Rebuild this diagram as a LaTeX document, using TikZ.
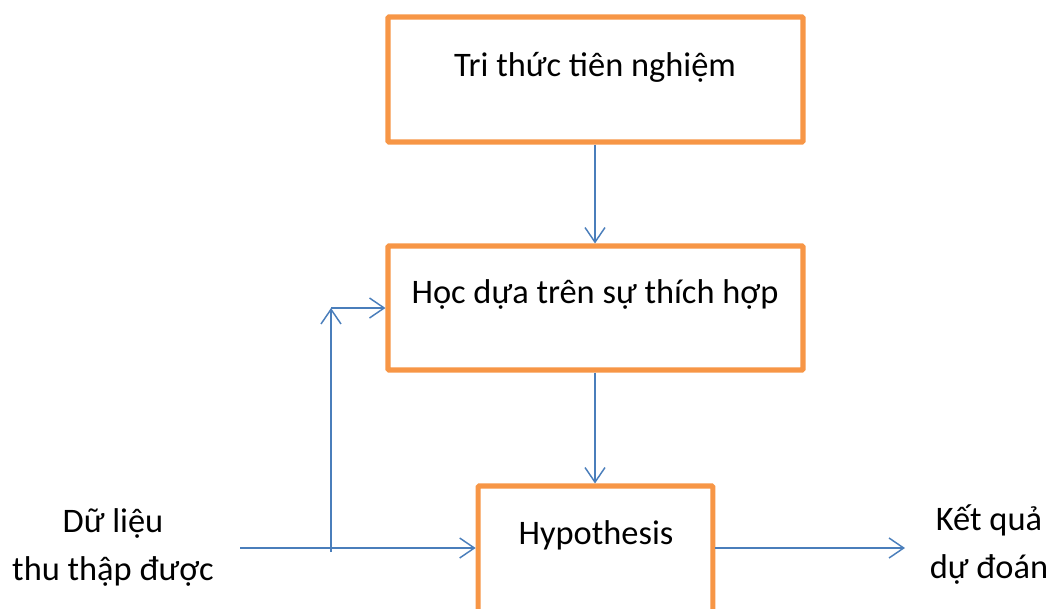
\documentclass[tikz,border=0pt]{standalone}
\usepackage{fontspec}
\setmainfont{Carlito}
\usetikzlibrary{arrows.meta}
\definecolor{boxorange}{HTML}{F79646}
\definecolor{linkblue}{HTML}{4A7EBB}
\begin{document}
\begin{tikzpicture}[x=0.75pt,y=-0.75pt,
  stagebox/.style={draw=boxorange,line width=3.8pt,rectangle,inner sep=0pt,
    rounded corners=0.8pt,fill=white},
  lbl/.style={font=\fontsize{25.8pt}{36pt}\selectfont,inner sep=0pt,align=center},
  link/.style={draw=linkblue,line width=1.1pt,
    -{Straight Barb[length=11pt,width=15pt,line width=1.1pt]}}]
  \useasboundingbox (0,0) rectangle (1049,608);
  \clip (0,0) rectangle (1049,608);
  % stage boxes
  \node[stagebox,minimum width=311.25pt,minimum height=93.75pt] (prior) at (595.5,79.5) {};
  \node[stagebox,minimum width=311.25pt,minimum height=93pt] (learn) at (595.5,308) {};
  \node[stagebox,minimum width=176pt,minimum height=120pt] (hyp) at (595.5,566) {};
  % box captions
  \node[lbl,anchor=base] (priorT) at (595,76) {Tri thức tiên nghiệm};
  \node[lbl,anchor=base] (learnT) at (595,303) {Học dựa trên sự thích hợp};
  \node[lbl,anchor=base] (hypT) at (596,544) {Hypothesis};
  % input and output labels (anchored on the baseline of the last line)
  \node[lbl,anchor=base] (data) at (113,580) {Dữ liệu\\thu thập được};
  \node[lbl,anchor=base] (result) at (989,578.5) {Kết quả\\dự đoán};
  % connector anchors
  \coordinate (inStart) at (240,548);
  \coordinate (branchLow) at (331,552);
  \coordinate (corner) at (331,308);
  \coordinate (outEnd) at (905,548);
  % connectors
  \draw[link] (prior.south -| 595,0) -- (learn.north -| 595,0);
  \draw[link] (learn.south -| 595,0) -- (hyp.north -| 595,0);
  \draw[link] (inStart) -- (inStart -| hyp.west);
  \draw[link] (branchLow) -- (corner);
  \draw[link] (corner) -- (corner -| learn.west);
  \draw[link] (hyp.east |- outEnd) -- (outEnd);
\end{tikzpicture}
\end{document}
